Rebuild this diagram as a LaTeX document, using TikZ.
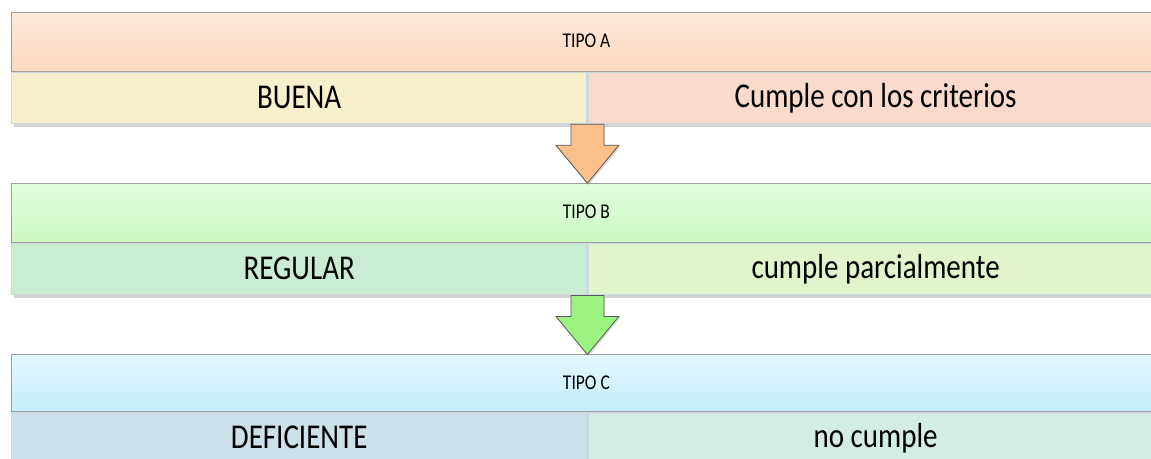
\documentclass[tikz,border=0pt]{standalone}
\usepackage{fontspec}
\setmainfont{Carlito}
\usetikzlibrary{positioning,calc,shadows}

\definecolor{hdrAtop}{HTML}{FFE9DA}
\definecolor{hdrAbot}{HTML}{FDD8BE}
\definecolor{lftA}{HTML}{F8EFCC}
\definecolor{rgtA}{HTML}{FADACB}
\definecolor{hdrBtop}{HTML}{E0FEDB}
\definecolor{hdrBbot}{HTML}{CBF8C3}
\definecolor{lftB}{HTML}{C9EDD3}
\definecolor{rgtB}{HTML}{E1F4CB}
\definecolor{hdrCtop}{HTML}{E3F8FF}
\definecolor{hdrCbot}{HTML}{C3EDFC}
\definecolor{lftC}{HTML}{CCE2EA}
\definecolor{rgtC}{HTML}{D1EDE5}
\definecolor{arrA}{HTML}{FDBF8A}
\definecolor{arrB}{HTML}{9BF482}
\definecolor{rim}{HTML}{C9D9E0}

\newcommand{\tall}[1]{\raisebox{2pt}{\scalebox{1}[1.2]{#1}}}

\begin{document}
\begin{tikzpicture}[
  x=1pt, y=1pt,
  hdr/.style   ={draw=gray!75, line width=0.8pt, minimum width=1150pt, minimum height=59pt,
                 inner sep=0pt, font=\fontsize{17.5}{19}\selectfont,
                 drop shadow={opacity=0.35, shadow xshift=2pt, shadow yshift=-3pt}},
  cell/.style  ={draw=rim, line width=1.4pt, minimum width=575pt, minimum height=51pt,
                 inner sep=0pt, font=\fontsize{29}{31}\selectfont,
                 drop shadow={opacity=0.35, shadow xshift=2pt, shadow yshift=-3pt}},
  blockarr/.style={draw=gray!70!black, line width=0.8pt, line join=miter,
                 drop shadow={opacity=0.3, shadow xshift=1pt, shadow yshift=-2pt}},
]
\useasboundingbox (0,0) rectangle (1151,-458);
\clip (0,0) rectangle (1151,-458);

%% ---------------- tipo A ----------------
\node[hdr, top color=hdrAtop, bottom color=hdrAbot, anchor=north west] (hdrA) at (11,-12) {\tall{TIPO A}};
\node[cell, fill=lftA, below right=0pt and 0pt of hdrA.south west] (lftA) {\tall{BUENA}};
\node[cell, fill=rgtA, right=0pt of lftA] (rgtA) {\tall{Cumple con los criterios}};

%% ---------------- tipo B ----------------
\node[hdr, top color=hdrBtop, bottom color=hdrBbot, below right=59pt and 0pt of lftA.south west] (hdrB) {\tall{TIPO B}};
\node[cell, fill=lftB, below right=0pt and 0pt of hdrB.south west] (lftB) {\tall{REGULAR}};
\node[cell, fill=rgtB, right=0pt of lftB] (rgtB) {\tall{cumple parcialmente}};

%% ---------------- tipo C ----------------
\node[hdr, minimum height=57pt, top color=hdrCtop, bottom color=hdrCbot, below right=59pt and 0pt of lftB.south west] (hdrC) {\tall{TIPO C}};
\node[cell, fill=lftC, below right=0pt and 0pt of hdrC.south west] (lftC) {\tall{DEFICIENTE}};
\node[cell, fill=rgtC, right=0pt of lftC] (rgtC) {\tall{no cumple}};

%% ---------------- arrows ----------------
\coordinate (tipAB) at (lftA.south east |- hdrB.north);
\coordinate (tipBC) at (lftB.south east |- hdrC.north);
\draw[blockarr, fill=arrA] ($(lftA.south east)+(-16.5,0)$) -- ++(0,-21) -- ++(-15,0) -- (tipAB)
  -- ($(lftA.south east)+(31.5,-21)$) -- ++(-15,0) -- ($(lftA.south east)+(16.5,0)$) -- cycle;
\draw[blockarr, fill=arrB] ($(lftB.south east)+(-16.5,0)$) -- ++(0,-21) -- ++(-15,0) -- (tipBC)
  -- ($(lftB.south east)+(31.5,-21)$) -- ++(-15,0) -- ($(lftB.south east)+(16.5,0)$) -- cycle;

\end{tikzpicture}
\end{document}
